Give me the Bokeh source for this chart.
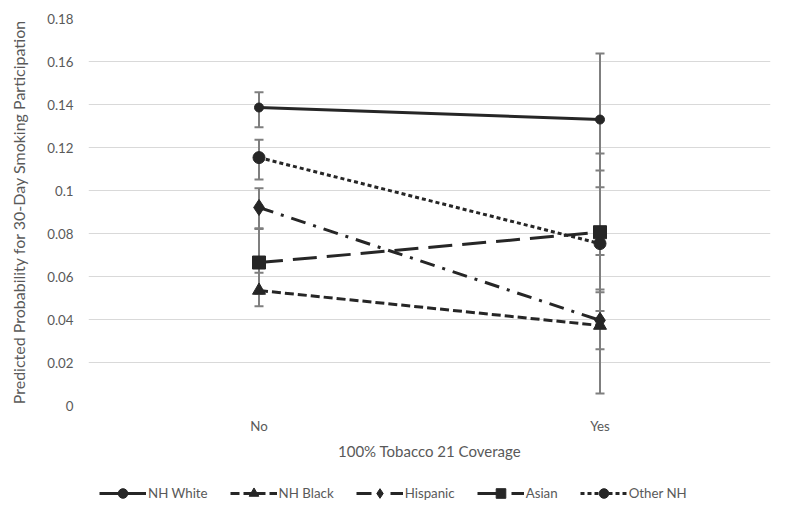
from bokeh.plotting import figure
from bokeh.layouts import column
from bokeh.models import (FactorRange, Range1d, FixedTicker, CustomJSTickFormatter,
                          Whisker, TeeHead, ColumnDataSource, Legend, LegendItem)
from bokeh.embed import file_html
from bokeh.resources import INLINE

# ---- data ----
categories = ["No", "Yes"]
series_names = ["NH White", "NH Black", "Hispanic", "Asian", "Other NH"]

nh_white = [0.1386, 0.1330]
nh_white_lo = [0.1294, 0.1015]
nh_white_hi = [0.1457, 0.1637]

nh_black = [0.0535, 0.0372]
nh_black_lo = [0.0462, 0.0056]
nh_black_hi = [0.0617, 0.0700]

hispanic = [0.0921, 0.0396]
hispanic_lo = [0.0825, 0.0262]
hispanic_hi = [0.1011, 0.0540]

asian = [0.0665, 0.0806]
asian_lo = [0.0520, 0.0527]
asian_hi = [0.0821, 0.1093]

other_nh = [0.1153, 0.0753]
other_nh_lo = [0.1051, 0.0440]
other_nh_hi = [0.1236, 0.1172]

y_ticks = [0.0, 0.02, 0.04, 0.06, 0.08, 0.1, 0.12, 0.14, 0.16, 0.18]

values = [nh_white, nh_black, hispanic, asian, other_nh]
lows = [nh_white_lo, nh_black_lo, hispanic_lo, asian_lo, other_nh_lo]
highs = [nh_white_hi, nh_black_hi, hispanic_hi, asian_hi, other_nh_hi]

# ---- styles ----
FONT = "Lato"
TXT = "#595959"
INK = "#262626"
styles = [
    dict(dash="solid", marker="circle", size=9),
    dict(dash="9 4", marker="triangle", size=13),
    dict(dash="15 8 3 8", marker="diamond", size=16),
    dict(dash="24 10", marker="square", size=13),
    dict(dash="4 3", marker="circle", size=12),
]

p = figure(x_range=FactorRange(*categories), y_range=Range1d(0, 0.18),
           width=787, height=470, output_backend="svg", toolbar_location=None,
           title=None, min_border_left=88, min_border_right=17,
           min_border_top=18, min_border_bottom=65)
p.outline_line_color = None
p.background_fill_color = "white"
p.border_fill_color = "white"

p.xgrid.visible = False
p.ygrid.grid_line_color = "#d9d9d9"
p.ygrid.grid_line_width = 1

p.yaxis.ticker = FixedTicker(ticks=y_ticks)
p.yaxis.formatter = CustomJSTickFormatter(
    code="return tick.toFixed(2).replace(/0+$/,'').replace(/\\.$/,'');")

for ax in (p.xaxis[0], p.yaxis[0]):
    ax.axis_line_color = None
    ax.major_tick_line_color = None
    ax.minor_tick_line_color = None
    ax.major_tick_out = 0
    ax.major_tick_in = 0
    ax.major_label_text_font = FONT
    ax.major_label_text_font_size = "13.3px"
    ax.major_label_text_color = TXT
    ax.axis_label_text_font = FONT
    ax.axis_label_text_font_style = "normal"
    ax.axis_label_text_color = TXT

p.yaxis.axis_label = "Predicted Probability for 30-Day Smoking Participation"
p.yaxis.axis_label_text_font_size = "16px"
p.yaxis.major_label_standoff = 15
p.yaxis.axis_label_standoff = 16
p.xaxis.axis_label = "100% Tobacco 21 Coverage"
p.xaxis.axis_label_text_font_size = "15px"
p.xaxis.major_label_standoff = 12
p.xaxis.axis_label_standoff = 5

# error bars
err_src = ColumnDataSource(dict(
    x=[c for _ in series_names for c in categories],
    lo=[v for arr in lows for v in arr],
    hi=[v for arr in highs for v in arr],
))
p.add_layout(Whisker(base="x", lower="lo", upper="hi", source=err_src,
                     dimension="height", line_color="#7f7f7f", line_width=2,
                     upper_head=TeeHead(size=9, line_color="#7f7f7f", line_width=2),
                     lower_head=TeeHead(size=9, line_color="#7f7f7f", line_width=2)))

# legend strip (separate figure below the chart; its y-range hides the data)
pl = figure(width=787, height=50, output_backend="svg", toolbar_location=None,
            title=None, x_range=p.x_range, y_range=Range1d(1, 2),
            x_axis_type=None, y_axis_type=None,
            min_border_left=88, min_border_right=17, min_border_top=0,
            min_border_bottom=0)
pl.outline_line_color = None
pl.grid.visible = False
pl.background_fill_color = "white"
pl.border_fill_color = "white"

items = []
for name, vals, st in zip(series_names, values, styles):
    src = ColumnDataSource(dict(x=categories, y=vals))
    p.line("x", "y", source=src, line_color=INK, line_width=3,
           line_dash=st["dash"])
    p.scatter("x", "y", source=src, marker=st["marker"], size=st["size"],
              fill_color=INK, line_color=INK)
    lr = pl.line("x", "y", source=src, line_color=INK, line_width=3,
                 line_dash=st["dash"])
    sr = pl.scatter("x", "y", source=src, marker=st["marker"],
                    fill_color=INK, line_color=INK)
    items.append(LegendItem(label=name, renderers=[lr, sr]))

legend = Legend(items=items, orientation="horizontal", location=(11, 15),
                glyph_width=47, glyph_height=24, label_standoff=2, spacing=22,
                padding=0, margin=0, border_line_color=None,
                background_fill_alpha=0, label_text_font=FONT,
                label_text_font_size="13.3px", label_text_color=TXT)
pl.add_layout(legend)

layout = column(p, pl, spacing=0)
open("out.html", "w").write(file_html(layout, INLINE))
